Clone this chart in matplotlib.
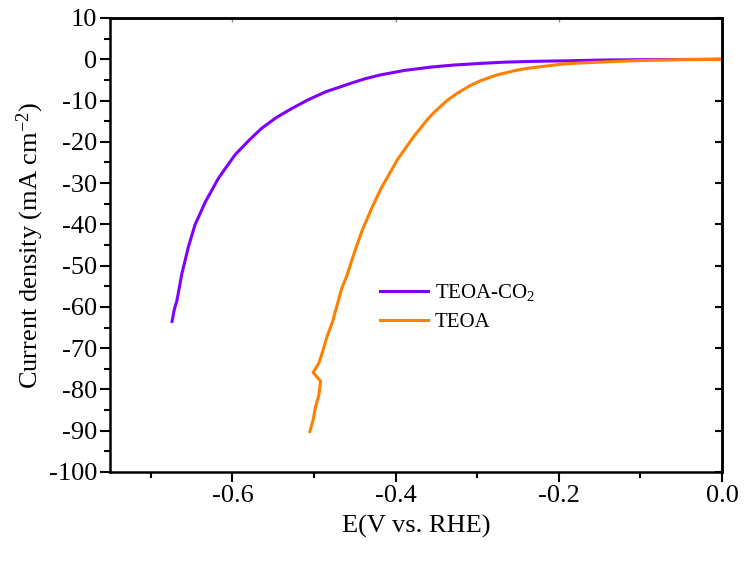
import matplotlib
matplotlib.use("Agg")
import matplotlib.pyplot as plt
from matplotlib.ticker import MultipleLocator

plt.rcParams['font.family'] = ['Liberation Serif', 'DejaVu Serif']
plt.rcParams['mathtext.fontset'] = 'custom'
plt.rcParams['mathtext.rm'] = 'Liberation Serif'
plt.rcParams['mathtext.it'] = 'Liberation Serif:italic'
plt.rcParams['axes.unicode_minus'] = False

# TEOA-CO2 (purple)
co2_E = [-0.674, -0.671, -0.668, -0.662, -0.654, -0.646, -0.633, -0.617, -0.597,
         -0.580, -0.564, -0.546, -0.527, -0.507, -0.486, -0.4515, -0.437, -0.419,
         -0.389, -0.357, -0.329, -0.296, -0.267, -0.230, -0.198, -0.15, -0.10, 0.0]
co2_J = [-63.5, -60.5, -58.5, -52.0, -45.5, -40.2, -34.5, -28.8, -23.2,
         -19.7, -16.7, -14.1, -11.9, -9.8, -7.9, -5.6, -4.7, -3.8,
         -2.7, -1.9, -1.4, -1.0, -0.7, -0.5, -0.4, -0.2, -0.1, 0.0]

# TEOA (orange)
teoa_E = [-0.505, -0.501, -0.498, -0.494, -0.492, -0.501, -0.494, -0.490, -0.484,
          -0.477, -0.466, -0.460, -0.450, -0.441, -0.428, -0.417, -0.406, -0.398,
          -0.386, -0.378, -0.361, -0.353, -0.337, -0.325, -0.308, -0.296, -0.276,
          -0.255, -0.239, -0.214, -0.198, -0.173, -0.14, -0.10, -0.05, 0.0]
teoa_J = [-90.2, -87.3, -84.1, -81.3, -78.0, -75.9, -73.6, -71.2, -67.2,
          -63.4, -55.5, -52.6, -46.5, -41.5, -35.5, -31.0, -27.2, -24.4,
          -21.0, -18.8, -14.6, -12.9, -10.0, -8.3, -6.3, -5.2, -3.8,
          -2.8, -2.2, -1.6, -1.2, -0.9, -0.6, -0.3, -0.1, 0.0]

labels = ['TEOA-CO$_2$', 'TEOA']
colors = ['#7F00FF', '#FF8000']

fig = plt.figure(figsize=(7.44, 5.63), dpi=100)
ax = fig.add_axes([110/744, 1 - 472/563, 612/744, 454/563])

ax.plot(co2_E, co2_J, color=colors[0], lw=2.2, label=labels[0], solid_joinstyle='round')
ax.plot(teoa_E, teoa_J, color=colors[1], lw=2.2, label=labels[1], solid_joinstyle='round')

ax.set_xlim(-0.75, 0.0)
ax.set_ylim(-100, 10)
ax.xaxis.set_major_locator(MultipleLocator(0.2))
ax.xaxis.set_minor_locator(MultipleLocator(0.1))
ax.yaxis.set_major_locator(MultipleLocator(10))
ax.yaxis.set_minor_locator(MultipleLocator(5))
ax.set_xticks([-0.6, -0.4, -0.2, 0.0])
ax.set_xticklabels(['-0.6', '-0.4', '-0.2', '0.0'])

ax.tick_params(which='both', direction='out', top=False, right=False,
               labelsize=19, width=1.5, pad=2)
ax.tick_params(which='major', length=7)
ax.tick_params(which='minor', length=4)
for s in ax.spines.values():
    s.set_linewidth(1.8)

sec_x = ax.secondary_xaxis('top')
sec_x.xaxis.set_major_locator(MultipleLocator(0.2))
sec_x.xaxis.set_minor_locator(MultipleLocator(0.1))
sec_x.tick_params(which='both', direction='in', labeltop=False, width=1.0,
                  color='#888888')
sec_x.tick_params(which='major', length=3)
sec_x.tick_params(which='minor', length=0)
sec_x.spines['top'].set_linewidth(1.8)

sec_y = ax.secondary_yaxis('right')
sec_y.yaxis.set_major_locator(MultipleLocator(10))
sec_y.yaxis.set_minor_locator(MultipleLocator(5))
sec_y.tick_params(which='both', direction='in', labelright=False, width=1.5)
sec_y.tick_params(which='major', length=5)
sec_y.tick_params(which='minor', length=0)
sec_y.spines['right'].set_linewidth(1.8)

ax.set_xlabel('E(V vs. RHE)', fontsize=19, labelpad=6)
ax.set_ylabel('Current density (mA cm$^{-2}$)', fontsize=19, labelpad=2)

ax.legend(loc='upper left', bbox_to_anchor=(0.41, 0.46), frameon=False,
          fontsize=15, handlelength=2.3, handletextpad=0.35, labelspacing=0.45)

fig.savefig('out.png', dpi=100)
